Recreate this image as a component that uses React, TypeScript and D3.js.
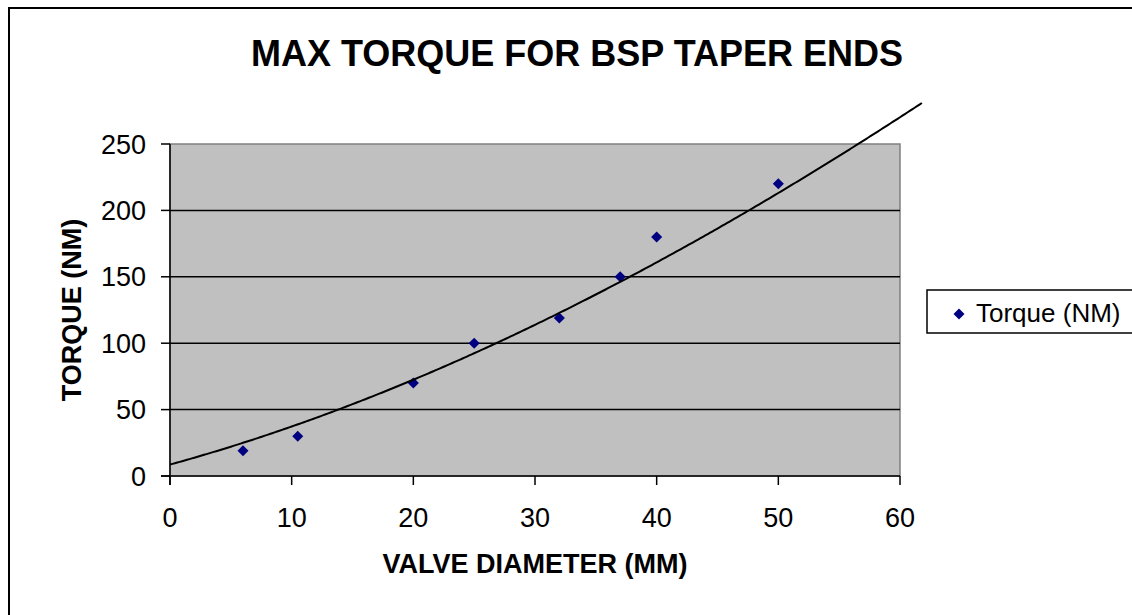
import React from "react";
import * as d3 from "d3";

// valve diameter (mm) vs max torque (NM)
const diameters = [6, 10.5, 20, 25, 32, 37, 40, 50];
const torques = [19, 30, 70, 100, 119, 150, 180, 220];

// trend curve
const trendX = [0, 6, 10.5, 13.7, 20, 26.6, 38.1, 47.5, 50, 61.8];
const trendY = [10, 22.8, 37.9, 50, 74, 100, 150, 200, 213, 281];

const xTicks = [0, 10, 20, 30, 40, 50, 60];
const yTicks = [0, 50, 100, 150, 200, 250];

// least squares polynomial, used to smooth the trend readings
function polyFit(xs: number[], ys: number[], order: number) {
  const n = order + 1;
  const A: number[][] = [];
  for (let i = 0; i < n; i++) {
    A.push([]);
    for (let j = 0; j < n; j++) A[i].push(d3.sum(xs, (x) => Math.pow(x, i + j)));
    A[i].push(d3.sum(xs, (x, k) => Math.pow(x, i) * ys[k]));
  }
  for (let c = 0; c < n; c++) {
    let p = c;
    for (let r = c + 1; r < n; r++) if (Math.abs(A[r][c]) > Math.abs(A[p][c])) p = r;
    [A[c], A[p]] = [A[p], A[c]];
    for (let r = 0; r < n; r++) {
      if (r === c) continue;
      const f = A[r][c] / A[c][c];
      for (let k = c; k <= n; k++) A[r][k] -= f * A[c][k];
    }
  }
  return A.map((row, i) => row[n] / row[i]);
}

const App = () => {
  const W = 1132;
  const H = 615;
  const left = 170, right = 900, top = 144, bottom = 476;

  const x = d3.scaleLinear().domain([0, 60]).range([left, right]);
  const y = d3.scaleLinear().domain([0, 250]).range([bottom, top]);

  const coef = polyFit(trendX, trendY, 3);
  const f = (v: number) => coef.reduce((s, c, i) => s + c * Math.pow(v, i), 0);
  const xMax = d3.max(trendX) as number;
  const trend = d3.range(0, xMax + 0.001, 0.2).map((v) => [v, f(v)] as [number, number]);
  const line = d3
    .line<[number, number]>()
    .x((d) => x(d[0]))
    .y((d) => y(d[1]));

  const diamond = d3.symbol().type(d3.symbolDiamond2).size(78)();
  const font = "Arial, 'Liberation Sans', sans-serif";

  return (
    <svg
      width={W}
      height={H}
      style={{ position: "absolute", left: 0, top: 0, background: "#fff" }}
      fontFamily={font}
    >
      <rect x={9} y={8} width={W + 20} height={H + 20} fill="#fff" stroke="#000" strokeWidth={2} />

      <text x={577} y={66} textAnchor="middle" fontSize={36} fontWeight="bold">
        MAX TORQUE FOR BSP TAPER ENDS
      </text>

      {/* plot area */}
      <rect x={left} y={top} width={right - left} height={bottom - top} fill="#c0c0c0" stroke="#808080" strokeWidth={1.5} />

      {yTicks.slice(1, -1).map((t) => (
        <line key={t} x1={left} x2={right} y1={y(t)} y2={y(t)} stroke="#000" strokeWidth={1.5} />
      ))}

      {/* axes */}
      <line x1={left} x2={left} y1={top} y2={bottom + 9} stroke="#000" strokeWidth={1.5} />
      <line x1={left - 9} x2={right} y1={bottom} y2={bottom} stroke="#000" strokeWidth={1.5} />

      {yTicks.map((t) => (
        <g key={t}>
          <line x1={left - 9} x2={left} y1={y(t)} y2={y(t)} stroke="#000" strokeWidth={1.5} />
          <text x={146} y={y(t) + 9.5} textAnchor="end" fontSize={27}>
            {t}
          </text>
        </g>
      ))}

      {xTicks.map((t) => (
        <g key={t}>
          <line x1={x(t)} x2={x(t)} y1={bottom} y2={bottom + 9} stroke="#000" strokeWidth={1.5} />
          <text x={x(t)} y={527} textAnchor="middle" fontSize={27}>
            {t}
          </text>
        </g>
      ))}

      <text x={535} y={573} textAnchor="middle" fontSize={27} fontWeight="bold">
        VALVE DIAMETER (MM)
      </text>
      <text
        transform={`translate(81,310) rotate(-90)`}
        textAnchor="middle"
        fontSize={27}
        fontWeight="bold"
      >
        TORQUE (NM)
      </text>

      {diameters.map((d, i) => (
        <path key={i} d={diamond as string} transform={`translate(${x(d)},${y(torques[i])})`} fill="#000080" />
      ))}

      <path d={line(trend) as string} fill="none" stroke="#000" strokeWidth={2} />

      {/* legend */}
      <rect x={927} y={290} width={220} height={43} fill="#fff" stroke="#000" strokeWidth={1.5} />
      <path d={diamond as string} transform="translate(959,314)" fill="#000080" />
      <text x={976} y={322} fontSize={26}>
        Torque (NM)
      </text>
    </svg>
  );
};

export default App;
